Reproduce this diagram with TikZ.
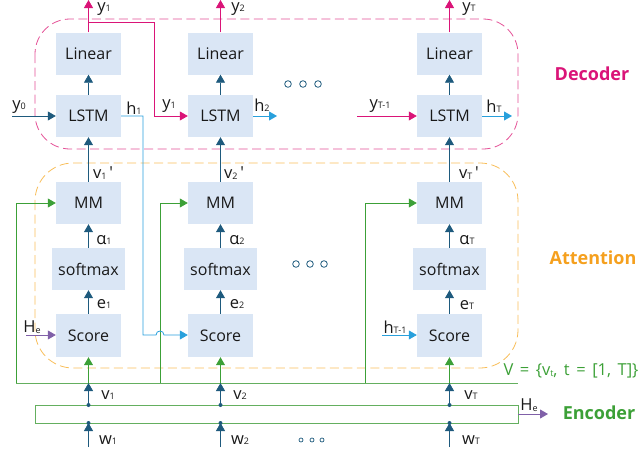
\documentclass[tikz,border=0pt]{standalone}
\usepackage{fontspec}
\setmainfont{Open Sans}[Ligatures=TeXOff]
\usetikzlibrary{arrows.meta}
\definecolor{boxfill}{RGB}{218,230,245}
\definecolor{dblue}{RGB}{30,90,125}
\definecolor{lblue}{RGB}{40,160,220}
\definecolor{mag}{RGB}{218,20,120}
\definecolor{pinkd}{RGB}{228,80,150}
\definecolor{orng}{RGB}{245,160,30}
\definecolor{orngd}{RGB}{248,190,90}
\definecolor{grn}{RGB}{60,160,55}
\definecolor{grnl}{RGB}{100,175,95}
\definecolor{purp}{RGB}{128,96,168}
\definecolor{labc}{RGB}{25,25,25}
\newcommand\sbs[1]{\raisebox{-0.5pt}{\fontsize{9}{9}\selectfont #1}}
\newcommand\wsp{\hspace{6.5pt}}
\tikzset{
  box/.style={fill=boxfill, minimum width=65pt, minimum height=42pt, inner sep=0pt, text=labc, font=\fontsize{16}{16}\selectfont},
  arr/.style={-{Triangle[width=9pt,length=8pt]}, line width=0.8pt},
  lab/.style={font=\fontsize{16.5}{16.5}\selectfont, inner sep=0pt, text=labc},
  ttl/.style={font=\fontsize{18}{18}\selectfont\bfseries, inner sep=0pt},
  dots/.style={draw=dblue, line width=0.8pt}
}
\begin{document}
\begin{tikzpicture}[x=1pt,y=-1pt]
\useasboundingbox (0,0) rectangle (642,453);
% group frames
\draw[pinkd, dash pattern=on 9pt off 4.5pt, rounded corners=35pt, line width=0.8pt] (35,19) rectangle (518,149);
\draw[orngd, dash pattern=on 9pt off 4.5pt, rounded corners=38pt, line width=0.8pt] (35,163) rectangle (518,368);
\draw[grnl, line width=1pt] (35,405) rectangle (518,423);
% boxes
\foreach \i/\x in {1/88.5,2/220.5,3/449.5}{
  \node[box] (lin\i) at (\x,53.5) {Linear};
  \node[box] (lstm\i) at (\x,116) {LSTM};
  \node[box] (mm\i) at (\x,203) {MM};
  \node[box, minimum width=73pt] (sm\i) at (\x,269) {softmax};
  \node[box, minimum height=43pt] (sc\i) at (\x,335.5) {Score};
  \coordinate (yo\i) at (\x,0);
  \coordinate (vl\i) at (\x,383);
  \coordinate (ea\i) at (\x,405);
  \coordinate (eb\i) at (\x,423);
  \coordinate (w\i) at (\x,447);
}
% V line and green feeds
\coordinate (g1) at (16,383);
\coordinate (g2) at (160,383);
\coordinate (g3) at (365,383);
\coordinate (gR) at (518,383);
\draw[grnl, line width=1pt] (g1) -- (gR);
\foreach \i in {1,2,3}{
  \draw[arr, grn] (g\i) |- (mm\i.west);
  \draw[arr, grn] (vl\i) -- (sc\i.south);
  \draw[arr, dblue] (ea\i) -- (vl\i);
  \draw[arr, dblue] (w\i) -- (eb\i);
  \fill[dblue] (ea\i) circle (2pt);
  \fill[dblue] (eb\i) circle (2pt);
  \draw[arr, dblue] (sc\i.north) -- (sm\i.south);
  \draw[arr, dblue] (sm\i.north) -- (mm\i.south);
  \draw[arr, dblue] (mm\i.north) -- (lstm\i.south);
  \draw[arr, dblue] (lstm\i.north) -- (lin\i.south);
  \draw[arr, mag] (lin\i.north) -- (yo\i);
}
% decoder inputs / outputs
\coordinate (y0s) at (12,116);
\draw[arr, dblue] (y0s) -- (lstm1.west);
\coordinate (br1) at (88.5,22.5);
\coordinate (k1) at (154,22.5);
\draw[arr, mag] (br1) -- (k1) |- (lstm2.west);
\coordinate (h1k) at (143,116);
\coordinate (hp1) at (156,335);
\coordinate (hp2) at (164,335);
\draw[arr, lblue] (lstm1.east) -- (h1k) |- (hp1) .. controls (156,329.7) and (164,329.7) .. (hp2) -- (sc2.west |- hp2);
\coordinate (h2e) at (277,116);
\draw[arr, lblue] (lstm2.east) -- (h2e);
\coordinate (hTe) at (512,116);
\draw[arr, lblue] (lstm3.east) -- (hTe);
\coordinate (yTs) at (357,116);
\draw[arr, mag] (yTs) -- (lstm3.west);
\coordinate (hTs) at (382,335);
\draw[arr, lblue] (hTs) -- (sc3.west |- hTs);
\coordinate (hes) at (26,335);
\draw[arr, purp] (hes) -- (sc1.west |- hes);
\coordinate (encR) at (518,414);
\coordinate (heo) at (548,414);
\draw[arr, purp] (encR) -- (heo);
% ellipsis dots
\foreach \x in {288,303,318}{\draw[dots] (\x,84) circle (3.3pt);}
\foreach \x in {296,310,324}{\draw[dots] (\x,264) circle (3.3pt);}
\foreach \x in {301,312,322}{\draw[dots, line width=0.7pt] (\x,440) circle (2pt);}
% labels
\node[lab] (ly1) at (104,9) {y\sbs{1}};
\node[lab] (ly2) at (238,9) {y\sbs{2}};
\node[lab] (lyT) at (469,9) {y\sbs{T}};
\node[lab] (ly0) at (19,107) {y\sbs{0}};
\node[lab] (lh1) at (134,108) {h\sbs{1}};
\node[lab] (ly1b) at (169,106) {y\sbs{1}};
\node[lab] (lh2) at (262,105) {h\sbs{2}};
\node[lab] (lyT1) at (380,106) {y\sbs{T-1}};
\node[lab] (lhT) at (494,106) {h\sbs{T}};
\node[lab] (lv1p) at (103,173) {v\sbs{1}\,'};
\node[lab] (lv2p) at (234,173) {v\sbs{2}\,'};
\node[lab] (lvTp) at (469,173) {v\sbs{T}\,'};
\node[lab] (la1) at (104,240) {α\sbs{1}};
\node[lab] (la2) at (237,240) {α\sbs{2}};
\node[lab] (laT) at (467,240) {α\sbs{T}};
\node[lab] (le1) at (104,304) {e\sbs{1}};
\node[lab] (le2) at (237,304) {e\sbs{2}};
\node[lab] (leT) at (467,305) {e\sbs{T}};
\node[lab] (lHe) at (32,327) {H\sbs{e}};
\node[lab] (lhT1) at (395,327) {h\sbs{T-1}};
\node[lab] (lv1) at (108,395) {v\sbs{1}};
\node[lab] (lv2) at (240,395) {v\sbs{2}};
\node[lab] (lvT) at (471,395) {v\sbs{T}};
\node[lab] (lw1) at (108,440) {w\sbs{1}};
\node[lab] (lw2) at (240,440) {w\sbs{2}};
\node[lab] (lwT) at (471,440) {w\sbs{T}};
\node[lab] (lHe2) at (529,405) {H\sbs{e}};
\node[lab, text=grn] (lV) at (571,371) {V\wsp=\wsp\{v\sbs{t},\wsp t\wsp=\wsp[1,\wsp T]\}};
\node[ttl, text=mag] (tdec) at (592,74) {Decoder};
\node[ttl, text=orng] (tatt) at (593,258) {Attention};
\node[ttl, text=grn] (tenc) at (599,413) {Encoder};
\end{tikzpicture}
\end{document}
